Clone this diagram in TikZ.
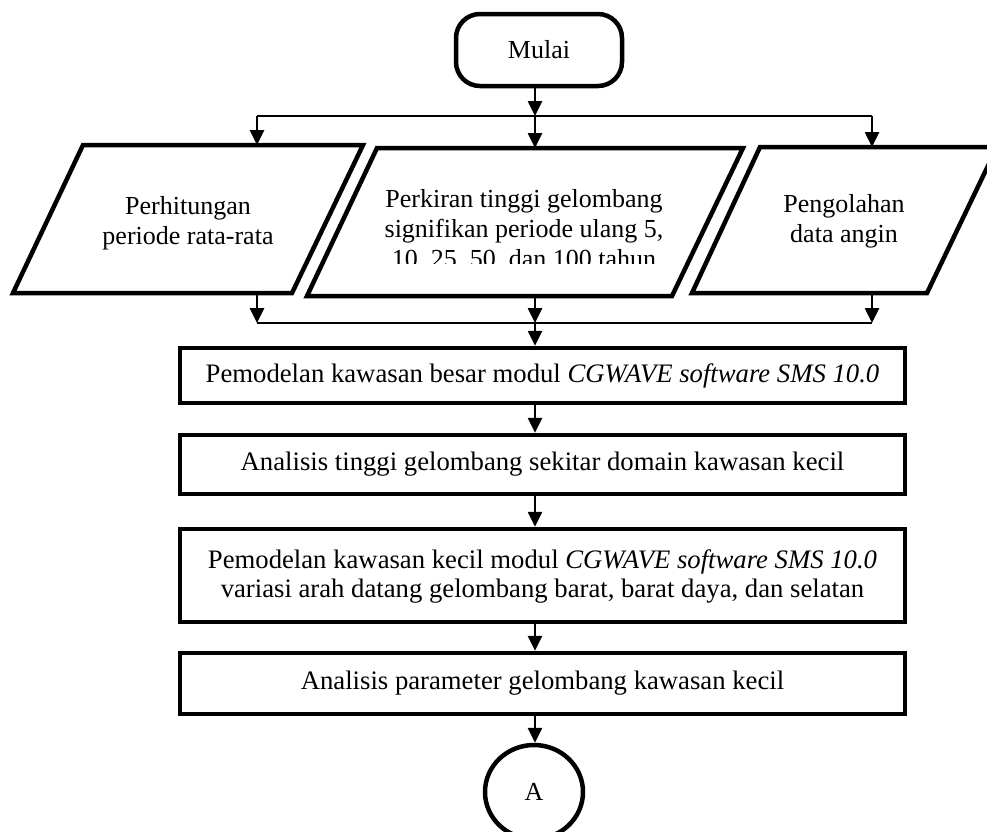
\documentclass[tikz,border=0pt]{standalone}
\usepackage{fontspec}
\setmainfont{Liberation Serif}
\usetikzlibrary{arrows.meta,shapes.geometric}
\tikzset{
  shapeline/.style={line width=4.5pt},
  termbox/.style={shapeline,draw,rounded corners=24pt,minimum width=166pt,minimum height=72pt,inner sep=0pt},
  procbox/.style={shapeline,draw,minimum width=725pt,inner sep=0pt,align=center,font=\fontsize{26.7}{29}\selectfont},
  connbox/.style={shapeline,draw,ellipse,minimum width=98pt,minimum height=94pt,inner sep=0pt},
  txt/.style={align=center,inner sep=0pt},
  arr/.style={line width=2.6pt,-{Triangle[length=15pt,width=14pt]}},
  bus/.style={line width=1.8pt},
}
\begin{document}
\begin{tikzpicture}[x=1pt,y=-1pt,font=\fontsize{26}{30}\selectfont]
\useasboundingbox (0,0) rectangle (987,831);
\clip (0,0) rectangle (987,831);
% axis
\coordinate (ax) at (535,0);
% start
\node[termbox] (start) at (539,50) {\raisebox{-4pt}{Mulai}};
% top bus
\coordinate (bt) at (535,116);
\coordinate (btl) at (257,116);
\coordinate (btr) at (872,116);
% parallelograms
\coordinate (p1a) at (83,145); \coordinate (p1b) at (363,145);
\coordinate (p1c) at (292,293); \coordinate (p1d) at (13,293);
\coordinate (p2a) at (377,148); \coordinate (p2b) at (743,148);
\coordinate (p2c) at (672,296); \coordinate (p2d) at (307,296);
\coordinate (p3a) at (760,147); \coordinate (p3b) at (997,147);
\coordinate (p3c) at (927,293); \coordinate (p3d) at (692,293);
\draw[shapeline] (p1a) -- (p1b) -- (p1c) -- (p1d) -- cycle;
\draw[shapeline] (p2a) -- (p2b) -- (p2c) -- (p2d) -- cycle;
\draw[shapeline] (p3a) -- (p3b) -- (p3c) -- (p3d) -- cycle;
\node[txt] (t1) at (188,223) {Perhitungan\\periode rata-rata};
\begin{scope}
\clip (300,170) rectangle (760,263);
\node[txt] (t2) at (524,230) {Perkiran tinggi gelombang\\signifikan periode ulang 5,\\10, 25, 50, dan 100 tahun};
\end{scope}
\node[txt] (t3) at (844,221) {Pengolahan\\data angin};
\coordinate (p1t) at (257,145); \coordinate (p1s) at (257,293);
\coordinate (p2t) at (535,148); \coordinate (p2s) at (535,296);
\coordinate (p3t) at (872,147); \coordinate (p3s) at (872,293);
% bottom bus
\coordinate (bb) at (535,323);
\coordinate (bbl) at (257,323);
\coordinate (bbr) at (872,323);
% process boxes
\node[procbox,minimum height=55pt] (b1) at (542.5,375.5) {Pemodelan kawasan besar modul \textit{CGWAVE software SMS 10.0}};
\node[procbox,minimum height=59pt] (b2) at (542.5,464.5) {Analisis tinggi gelombang sekitar domain kawasan kecil};
\node[procbox,minimum height=93pt,text depth=0pt] (b3) at (542.5,575.5) {\raisebox{19pt}{\begin{tabular}{@{}c@{}}Pemodelan kawasan kecil modul \textit{CGWAVE software SMS 10.0}\\variasi arah datang gelombang barat, barat daya, dan selatan\end{tabular}}};
\node[procbox,minimum height=61pt] (b4) at (542.5,683.5) {Analisis parameter gelombang kawasan kecil};
\node[connbox] (end) at (534,792) {A};
% connectors
\draw[arr] (start.south -| bt) -- (bt);
\draw[bus] (btl) -- (btr);
\draw[arr] (btl) -- (p1t);
\draw[arr] (bt) -- (p2t);
\draw[arr] (btr) -- (p3t);
\draw[arr] (p1s) -- (bbl);
\draw[arr] (p2s) -- (bb);
\draw[arr] (p3s) -- (bbr);
\draw[bus] (bbl) -- (bbr);
\draw[arr] (bb) -- (b1.north -| ax);
\draw[arr] (b1.south -| ax) -- (b2.north -| ax);
\draw[arr] (b2.south -| ax) -- (b3.north -| ax);
\draw[arr] (b3.south -| ax) -- (b4.north -| ax);
\draw[arr] (b4.south -| ax) -- (end.north -| ax);
\end{tikzpicture}
\end{document}
